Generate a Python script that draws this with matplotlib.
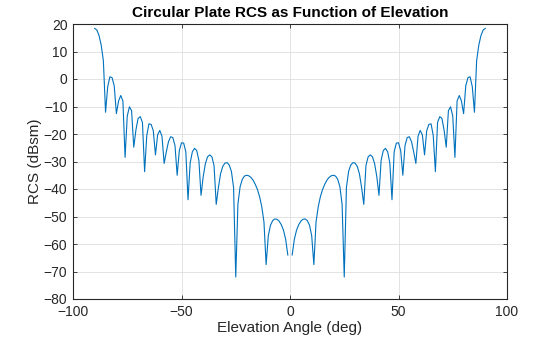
import numpy as np
import matplotlib
matplotlib.use("Agg")
import matplotlib.pyplot as plt

# Elevation angles (deg), 1-degree sampling
elevation_deg = list(range(-90, 91))

# RCS values (dBsm); value at 0 deg is undefined (gap)
rcs_dbsm = [
    # -90 .. -81
    18.4, 17.8, 15.8, 12.3, 6.6, -12.1, -2.8, 0.8, 0.5, -2.5,
    # -80 .. -71
    -12.6, -8.0, -6.0, -8.0, -28.5, -13.5, -10.1, -11.5, -24.8, -18.5,
    # -70 .. -61
    -14.3, -13.7, -15.8, -33.7, -20.5, -16.3, -16.5, -18.8, -27.6, -20.3,
    # -60 .. -51
    -18.7, -20.8, -30.7, -26.5, -22.8, -21.0, -21.3, -24.2, -35.0, -26.0,
    # -50 .. -41
    -23.2, -23.3, -26.5, -43.9, -30.5, -26.5, -25.2, -26.0, -29.5, -42.3,
    # -40 .. -31
    -35.5, -30.8, -28.3, -27.6, -28.3, -31.5, -45.6, -39.5, -34.5, -31.8,
    # -30 .. -21
    -30.6, -30.4, -31.3, -33.6, -39.5, -72.0, -45.5, -39.2, -36.5, -35.3,
    # -20 .. -11
    -35.0, -35.2, -35.8, -36.8, -38.3, -40.2, -42.8, -46.5, -52.0, -67.5,
    # -10 .. -1
    -57.0, -53.2, -51.5, -50.9, -51.0, -51.7, -53.0, -55.0, -58.3, -64.0,
    # 0
    float("nan"),
    # 1 .. 10
    -64.0, -58.3, -55.0, -53.0, -51.7, -51.0, -50.9, -51.5, -53.2, -57.0,
    # 11 .. 20
    -67.5, -52.0, -46.5, -42.8, -40.2, -38.3, -36.8, -35.8, -35.2, -35.0,
    # 21 .. 30
    -35.3, -36.5, -39.2, -45.5, -72.0, -39.5, -33.6, -31.3, -30.4, -30.6,
    # 31 .. 40
    -31.8, -34.5, -39.5, -45.6, -31.5, -28.3, -27.6, -28.3, -30.8, -35.5,
    # 41 .. 50
    -42.3, -29.5, -26.0, -25.2, -26.5, -30.5, -43.9, -26.5, -23.3, -23.2,
    # 51 .. 60
    -26.0, -35.0, -24.2, -21.3, -21.0, -22.8, -26.5, -30.7, -20.8, -18.7,
    # 61 .. 70
    -20.3, -27.6, -18.8, -16.5, -16.3, -20.5, -33.7, -15.8, -13.7, -14.3,
    # 71 .. 80
    -18.5, -24.8, -11.5, -10.1, -13.5, -28.5, -8.0, -6.0, -8.0, -12.6,
    # 81 .. 90
    -2.5, 0.5, 0.8, -2.8, -12.1, 6.6, 12.3, 15.8, 17.8, 18.4,
]

x_ticks = [-100, -50, 0, 50, 100]
y_ticks = list(range(-80, 21, 10))

plt.rcParams['font.family'] = ['Liberation Sans', 'DejaVu Sans']
axis_color = '#262626'

fig = plt.figure(figsize=(5.6, 3.37), dpi=100)
ax = fig.add_axes([73/560, 1 - 299/337, (507-73)/560, (299-24)/337])

ax.plot(elevation_deg, rcs_dbsm, color='#0072BD', linewidth=0.8)

ax.set_xlim(-100, 100)
ax.set_ylim(-80, 20)
ax.set_xticks(x_ticks)
ax.set_yticks(y_ticks)
ax.grid(True, color='#DEDEDE', linewidth=0.6)
ax.set_axisbelow(True)

ax.tick_params(direction='in', length=3, width=0.6, colors=axis_color,
               labelsize=10, top=True, right=True)
ax.tick_params(axis='x', pad=4.5)
ax.tick_params(axis='y', pad=4)
for s in ax.spines.values():
    s.set_color(axis_color)
    s.set_linewidth(0.8)

ax.set_title('Circular Plate RCS as Function of Elevation', fontsize=11,
             fontweight='bold', color='black', pad=5)
ax.set_xlabel('Elevation Angle (deg)', fontsize=11, color=axis_color, labelpad=1)
ax.set_ylabel('RCS (dBsm)', fontsize=11, color=axis_color, labelpad=1)

fig.savefig('out.png', dpi=100)
